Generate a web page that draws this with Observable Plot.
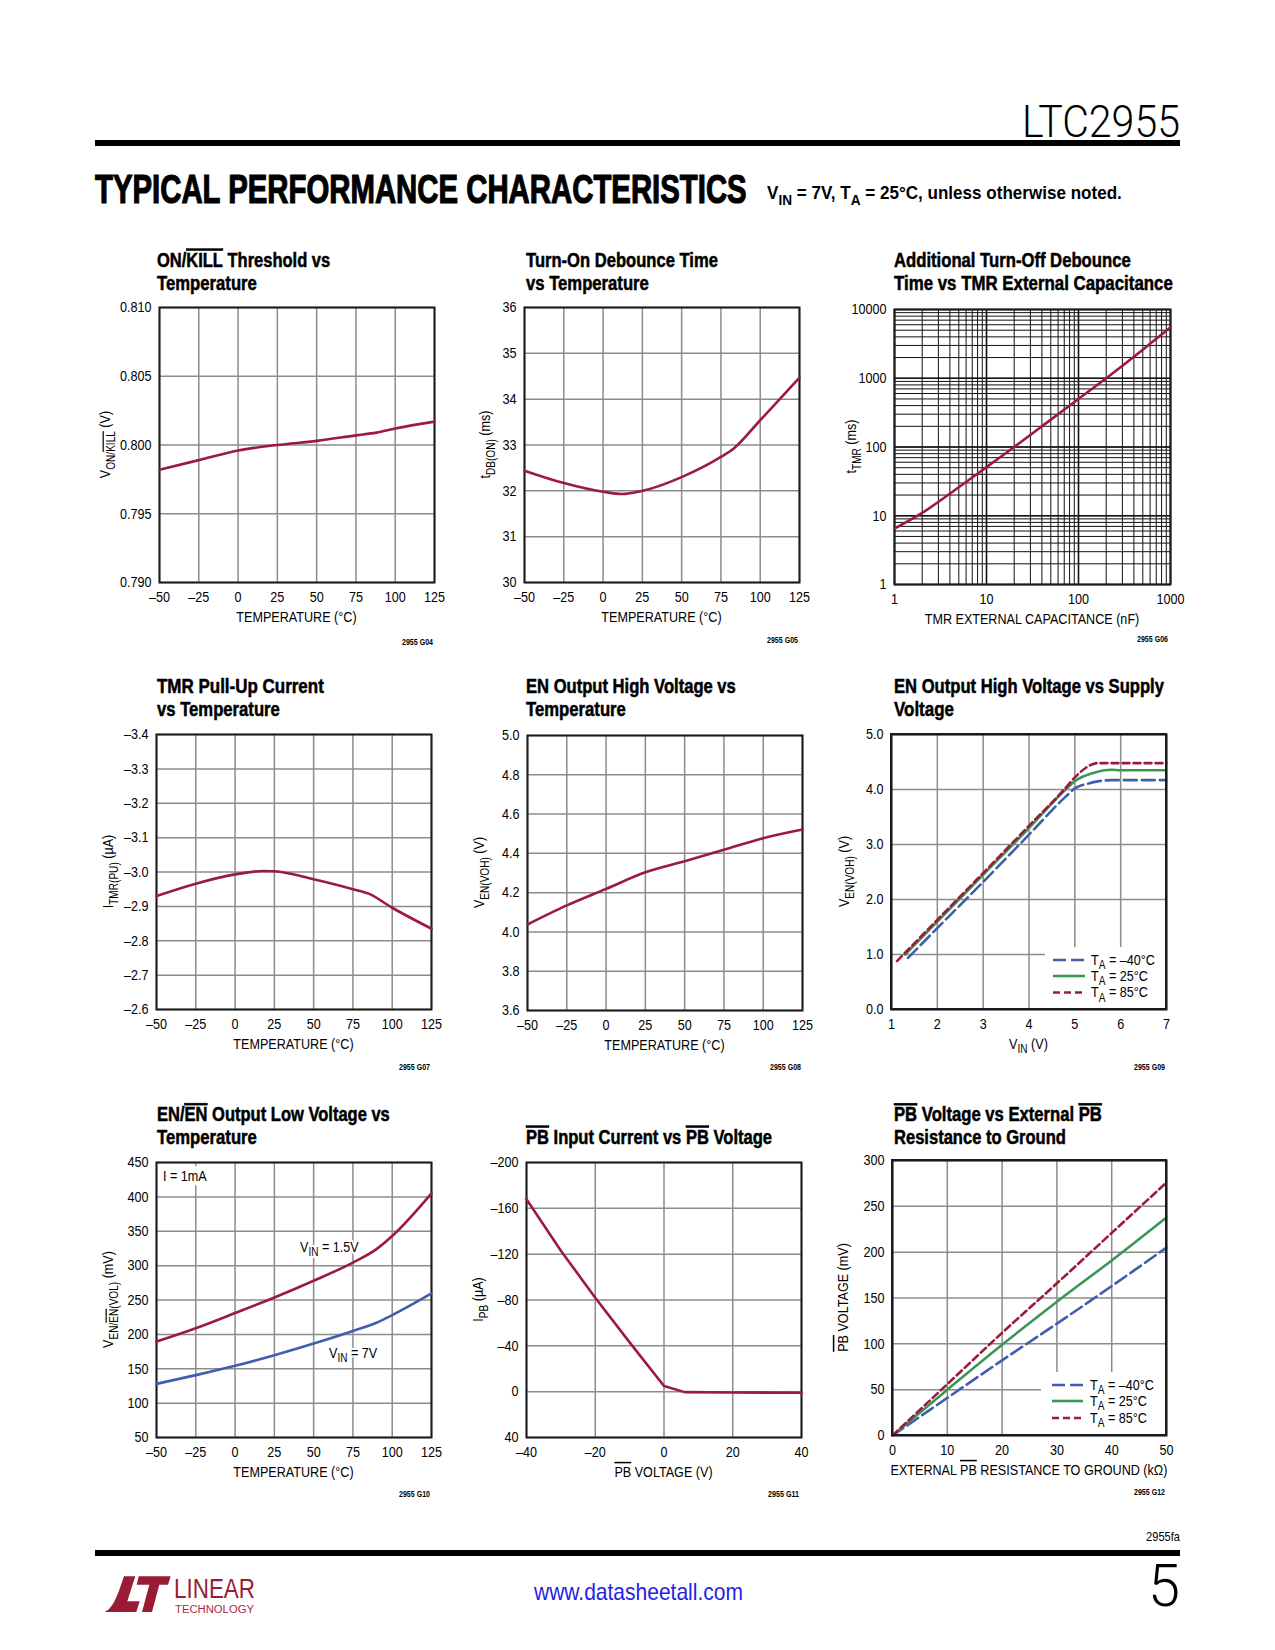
<!DOCTYPE html>
<html><head><meta charset="utf-8">
<script src="https://cdn.jsdelivr.net/npm/d3@7"></script>
<script src="https://cdn.jsdelivr.net/npm/@observablehq/plot@0.6"></script>
<style>
html,body{margin:0;padding:0;background:#fff;}
#page{position:relative;width:1275px;height:1650px;overflow:hidden;background:#fff;}
#chrome{position:absolute;left:0;top:0;}
</style></head>
<body><div id="page"></div>
<script>
// ---------------- DATA ----------------
const tempTicks = [-50, -25, 0, 25, 50, 75, 100, 125];

// G04 ON/KILL threshold vs temperature
const c1Temp = [-50, -25, 0, 25, 50, 75, 88, 100, 125];
const c1Volt = [0.7982, 0.7989, 0.7996, 0.8000, 0.8003, 0.8007, 0.8009, 0.8012, 0.8017];
const c1YTicks = [0.790, 0.795, 0.800, 0.805, 0.810];

// G05 Turn-on debounce time
const c2Temp = [-50, -25, 0, 12, 25, 50, 75, 83, 100, 125];
const c2Time = [32.44, 32.17, 31.98, 31.93, 32.0, 32.3, 32.74, 32.92, 33.54, 34.47];
const c2YTicks = [30, 31, 32, 33, 34, 35, 36];

// G06 Turn-off debounce vs capacitance (log-log)
const c3Cap = [1, 2, 5, 10, 20, 50, 100, 200, 500, 1000];
const c3Time = [6.5, 11, 26, 51, 100, 250, 500, 1000, 2600, 5500];
const c3XTicks = [1, 10, 100, 1000];
const c3YTicks = [1, 10, 100, 1000, 10000];
const c3Mult = [1, 2, 3, 4, 5, 6, 7, 8, 9];

// G07 TMR pull-up current
const c4Temp = [-50, -25, 0, 18, 25, 50, 75, 85, 100, 125];
const c4Curr = [-2.930, -2.966, -2.993, -3.003, -3.002, -2.979, -2.950, -2.937, -2.896, -2.835];
const c4YTicks = [-3.4, -3.3, -3.2, -3.1, -3.0, -2.9, -2.8, -2.7, -2.6];

// G08 EN output high voltage vs temperature
const c5Temp = [-50, -25, 0, 25, 50, 75, 100, 125];
const c5Volt = [4.038, 4.135, 4.219, 4.304, 4.360, 4.418, 4.477, 4.521];
const c5YTicks = [3.6, 3.8, 4.0, 4.2, 4.4, 4.6, 4.8, 5.0];

// G09 EN output high voltage vs supply
const c6VinM40 = [1.36, 2, 3, 4, 4.8, 5, 5.3, 5.8, 7];
const c6VohM40 = [0.94, 1.48, 2.32, 3.18, 3.87, 4.02, 4.11, 4.17, 4.17];
const c6Vin25 = [1.3, 2, 3, 4, 4.8, 5, 5.4, 5.8, 6, 7];
const c6Voh25 = [1.0, 1.6, 2.45, 3.3, 4.0, 4.15, 4.3, 4.36, 4.35, 4.35];
const c6Vin85 = [1.12, 2, 3, 4, 4.8, 5, 5.25, 5.5, 7];
const c6Voh85 = [0.88, 1.63, 2.48, 3.34, 4.03, 4.22, 4.40, 4.48, 4.48];
const c6XTicks = [1, 2, 3, 4, 5, 6, 7];
const c6YTicks = [0, 1, 2, 3, 4, 5];

// G10 EN output low voltage
const c7Temp = [-50, -25, 0, 25, 50, 75, 90, 100, 125];
const c7Vin15 = [189.6, 209, 231, 253.6, 278, 304.5, 324, 343, 405];
const c7Vin7 = [128, 140.7, 154.3, 169.7, 186.7, 205, 217, 228, 259.5];
const c7YTicks = [50, 100, 150, 200, 250, 300, 350, 400, 450];

// G11 PB input current vs PB voltage
const c8Volt = [-40, -30, -20, -10, 0, 6, 20, 40];
const c8Curr = [-168, -123, -82, -43, -5, 0.4, 0.7, 1];
const c8XTicks = [-40, -20, 0, 20, 40];
const c8YTicks = [-200, -160, -120, -80, -40, 0, 40];

// G12 PB voltage vs external resistance
const c9Res = [0, 10, 20, 30, 40, 50];
const c9M40 = [0, 41, 82, 122, 163, 205];
const c9T25 = [0, 50, 99, 146, 191, 238];
const c9T85 = [0, 56, 112, 166, 221, 276];
const c9XTicks = [0, 10, 20, 30, 40, 50];
const c9YTicks = [0, 50, 100, 150, 200, 250, 300];

// ---------------- STYLE ----------------
const NARROW = "'Liberation Sans',Arial,Helvetica,sans-serif";
const CONDENSE = 0.84;
const RED = "#9b1b3d", BLUE = "#3f5fae", GREEN = "#3b9558", GRID = "#8c8c8c";
const ML = 80, MR = 40, MT = 20, MB = 75;
const page = document.getElementById("page");

const fmt = dec => d => (d < 0 ? "\u2013" : "") + Math.abs(d).toFixed(dec);
const pts = (xs, ys) => xs.map((x, i) => ({x, y: ys[i]}));

function rich(sel, parts, base, subScale = 0.8, shift = 0.3) {
  let inSub = false;
  for (const p of parts) {
    const t = p[0], f = p[1] || "";
    const ts = sel.append("tspan").text(t);
    const sub = f.includes("s");
    if (sub) ts.attr("font-size", base * subScale);
    if (sub !== inSub) ts.attr("dy", (sub ? 1 : -1) * base * shift);
    if (f.includes("o")) ts.style("text-decoration", "overline");
    inSub = sub;
  }
  return sel;
}

// horizontal condensing about the text's anchor point
function squeeze(node, s) {
  const x = +(node.getAttribute("x") || 0), y = +(node.getAttribute("y") || 0);
  const prev = node.getAttribute("transform") || "";
  node.setAttribute("transform", `${prev} translate(${x},${y}) scale(${s.toFixed(4)},1) translate(${-x},${-y})`.trim());
  node.setAttribute("data-sq", "1");
}

// ---------------- PAGE CHROME ----------------
const chrome = d3.select(page).append("svg").attr("id", "chrome")
  .attr("width", 1275).attr("height", 1650);

function ctext(x, y, parts, o) {
  const t = chrome.append("text").attr("x", x).attr("y", y)
    .attr("font-family", o.family || NARROW).attr("font-size", o.size)
    .attr("font-weight", o.weight || "normal").attr("fill", o.fill || "#000")
    .attr("text-anchor", o.anchor || "start");
  if (o.stroke) t.attr("stroke", o.fill || "#000").attr("stroke-width", o.stroke);
  rich(t, parts, o.size, o.subScale || 0.8, o.shift || 0.3);
  if (o.len) {
    const L = t.node().getComputedTextLength();
    if (L > 0) squeeze(t.node(), o.len / L);
  }
  return t;
}

// header
ctext(1180, 137, [["LTC2955"]], {size: 44, family: "Roboto, " + NARROW, weight: 300, anchor: "end", len: 158});
chrome.append("rect").attr("x", 95).attr("y", 140).attr("width", 1085).attr("height", 6).attr("fill", "#000");
ctext(95, 203, [["TYPICAL PERFORMANCE CHARACTERISTICS"]], {size: 41, weight: 900, len: 652, stroke: 1.2});
ctext(767, 199, [["V"], ["IN", "s"], [" = 7V, T"], ["A", "s"], [" = 25°C, unless otherwise noted."]], {size: 19, weight: "bold", len: 355});

// footer
ctext(1180, 1541, [["2955fa"]], {size: 13, anchor: "end", len: 34});
chrome.append("rect").attr("x", 95).attr("y", 1550).attr("width", 1085).attr("height", 6).attr("fill", "#000");
ctext(534, 1600, [["www.datasheetall.com"]], {size: 24, fill: "#1f23e6", len: 209});
ctext(1180, 1606, [["5"]], {size: 60, family: "Roboto, " + NARROW, weight: 300, anchor: "end", len: 32});
// Linear Technology logo (approximation)
const LOGO = "#9a1c34";
chrome.append("path").attr("fill", LOGO)
  .attr("d", "M104.7 1612 C114.7 1608 119.7 1588 124 1576.3 L135.3 1576.3 L127.3 1601.3 L139.7 1601.3 L136.3 1612 Z");
chrome.append("path").attr("fill", LOGO)
  .attr("d", "M138.7 1576.3 L170.7 1576.3 L168 1584.7 L159.3 1584.7 L152 1612 L142 1612 L149.3 1584.7 L136.7 1584.7 Z");
ctext(174, 1598, [["LINEAR"]], {size: 28, fill: LOGO, len: 81});
ctext(175, 1613.5, [["TECHNOLOGY"]], {size: 10, fill: "#a82a45", len: 79});

// chart titles
const titles = [
  {x: 157, y: 267, lines: [[[["ON/"], ["KILL", "o"], [" Threshold vs"]], 173], [[["Temperature"]], 100]]},
  {x: 526, y: 267, lines: [[[["Turn-On Debounce Time"]], 192], [[["vs Temperature"]], 123]]},
  {x: 894, y: 267, lines: [[[["Additional Turn-Off Debounce"]], 237], [[["Time vs TMR External Capacitance"]], 279]]},
  {x: 157, y: 693, lines: [[[["TMR Pull-Up Current"]], 167], [[["vs Temperature"]], 123]]},
  {x: 526, y: 693, lines: [[[["EN Output High Voltage vs"]], 210], [[["Temperature"]], 100]]},
  {x: 894, y: 693, lines: [[[["EN Output High Voltage vs Supply"]], 270], [[["Voltage"]], 60]]},
  {x: 157, y: 1121.5, lines: [[[["EN/"], ["EN", "o"], [" Output Low Voltage vs"]], 233], [[["Temperature"]], 100]]},
  {x: 526, y: 1144, lines: [[[["PB", "o"], [" Input Current vs "], ["PB", "o"], [" Voltage"]], 246]]},
  {x: 894, y: 1121.5, lines: [[[["PB", "o"], [" Voltage vs External "], ["PB", "o"]], 208], [[["Resistance to Ground"]], 172]]}
];
for (const t of titles) {
  t.lines.forEach(([parts, len], i) => ctext(t.x, t.y + i * 23, parts, {size: 19.5, weight: "bold", len, stroke: 0.5}));
}

// chart ids
const ids = [
  ["2955 G04", 433, 645], ["2955 G05", 798, 643], ["2955 G06", 1168, 642],
  ["2955 G07", 430, 1070], ["2955 G08", 801, 1070], ["2955 G09", 1165, 1070],
  ["2955 G10", 430, 1497], ["2955 G11", 799, 1497], ["2955 G12", 1165, 1495]
];
for (const [s, x, y] of ids) ctext(x, y, [[s]], {size: 9.5, weight: "bold", anchor: "end", len: 31});

// ---------------- CHARTS ----------------
function makeChart(o) {
  const fw = o.fw || 275, fh = o.fh || 275;
  const svg = Plot.plot({
    width: fw + ML + MR, height: fh + MT + MB,
    marginLeft: ML, marginRight: MR, marginTop: MT, marginBottom: MB,
    style: {fontFamily: NARROW, fontSize: "15px", background: "transparent", overflow: "visible", color: "#000"},
    x: Object.assign({tickSize: 0, tickPadding: 9, label: null}, o.x),
    y: Object.assign({tickSize: 0, tickPadding: 8, label: null}, o.y),
    marks: o.marks
  });
  svg.style.position = "absolute";
  svg.style.left = (o.fx - ML) + "px";
  svg.style.top = (o.fy - MT) + "px";
  page.appendChild(svg);
  const s = d3.select(svg);
  rich(s.append("text").attr("x", ML + fw / 2).attr("y", MT + fh + 40).attr("text-anchor", "middle")
    .attr("font-family", NARROW).attr("font-size", 15).attr("fill", "#000"), o.xLabel, 15);
  rich(s.append("text").attr("transform", `translate(${ML - o.yOff},${MT + fh / 2}) rotate(-90)`)
    .attr("text-anchor", "middle").attr("font-family", NARROW).attr("font-size", 15).attr("fill", "#000"), o.yLabel, 15);
  return {s, fw, fh};
}

function grid(xs, ys, color = GRID, w = 1.5) {
  return [
    Plot.ruleX(xs, {stroke: color, strokeWidth: w}),
    Plot.ruleY(ys, {stroke: color, strokeWidth: w})
  ];
}
const frame = () => Plot.frame({stroke: "#1a1a1a", strokeWidth: 2});
const curve = (data, color, opts = {}) => Plot.line(data, Object.assign({x: "x", y: "y", stroke: color, strokeWidth: 2.6, curve: "monotone-x"}, opts));

function legend(c, box, rows, sx0, sx1, tx) {
  const g = c.s.append("g").attr("transform", `translate(${ML},${MT})`);
  g.append("rect").attr("x", box[0]).attr("y", box[1]).attr("width", box[2] - box[0]).attr("height", box[3] - box[1]).attr("fill", "#fff");
  for (const r of rows) {
    g.append("line").attr("x1", sx0).attr("x2", sx1).attr("y1", r.y).attr("y2", r.y)
      .attr("stroke", r.color).attr("stroke-width", 2.6).attr("stroke-dasharray", r.dash || null);
    rich(g.append("text").attr("x", tx).attr("y", r.y + 5).attr("text-anchor", "start")
      .attr("font-family", NARROW).attr("font-size", 15).attr("fill", "#000"), r.label, 15);
  }
  g.append("rect").attr("x", 0).attr("y", 0).attr("width", c.fw).attr("height", c.fh)
    .attr("fill", "none").attr("stroke", "#1a1a1a").attr("stroke-width", 2);
}

const TEMP_X = {domain: [-50, 125], ticks: tempTicks, tickFormat: fmt(0)};
const TEMP_LABEL = [["TEMPERATURE (°C)"]];

// 1
makeChart({
  fx: 159, fy: 307, yOff: 49,
  x: TEMP_X, y: {domain: [0.790, 0.810], ticks: c1YTicks, tickFormat: fmt(3)},
  xLabel: TEMP_LABEL, yLabel: [["V"], ["ON/", "s"], ["KILL", "so"], [" (V)"]],
  marks: [...grid(tempTicks, c1YTicks), frame(), curve(pts(c1Temp, c1Volt), RED)]
});
// 2
makeChart({
  fx: 524, fy: 307, yOff: 34,
  x: TEMP_X, y: {domain: [30, 36], ticks: c2YTicks, tickFormat: fmt(0)},
  xLabel: TEMP_LABEL, yLabel: [["t"], ["DB(ON)", "s"], [" (ms)"]],
  marks: [...grid(tempTicks, c2YTicks), frame(), curve(pts(c2Temp, c2Time), RED)]
});
// 3
const c3XGrid = [1, 10, 100].flatMap(d => c3Mult.map(m => d * m)).concat([1000]);
const c3YGrid = [1, 10, 100, 1000].flatMap(d => c3Mult.map(m => d * m)).concat([10000]);
makeChart({
  fx: 894, fy: 309, fw: 276, yOff: 38,
  x: {type: "log", domain: [1, 1000], ticks: c3XTicks, tickFormat: d => String(d)},
  y: {type: "log", domain: [1, 10000], ticks: c3YTicks, tickFormat: d => String(d)},
  xLabel: [["TMR EXTERNAL CAPACITANCE (nF)"]], yLabel: [["t"], ["TMR", "s"], [" (ms)"]],
  marks: [
    ...grid(c3XGrid, c3YGrid, "#111", 1),
    ...grid(c3XTicks, c3YTicks, "#111", 1.6),
    frame(), curve(pts(c3Cap, c3Time), RED)
  ]
});
// 4
makeChart({
  fx: 156, fy: 734, yOff: 43,
  x: TEMP_X, y: {domain: [-2.6, -3.4], ticks: c4YTicks, tickFormat: fmt(1)},
  xLabel: TEMP_LABEL, yLabel: [["I"], ["TMR(PU)", "s"], [" (µA)"]],
  marks: [...grid(tempTicks, c4YTicks), frame(), curve(pts(c4Temp, c4Curr), RED)]
});
// 5
makeChart({
  fx: 527, fy: 735, yOff: 43,
  x: TEMP_X, y: {domain: [3.6, 5.0], ticks: c5YTicks, tickFormat: fmt(1)},
  xLabel: TEMP_LABEL, yLabel: [["V"], ["EN(VOH)", "s"], [" (V)"]],
  marks: [...grid(tempTicks, c5YTicks), frame(), curve(pts(c5Temp, c5Volt), RED)]
});
// 6
const c6 = makeChart({
  fx: 891, fy: 734, yOff: 42,
  x: {domain: [1, 7], ticks: c6XTicks, tickFormat: fmt(0)},
  y: {domain: [0, 5], ticks: c6YTicks, tickFormat: fmt(1)},
  xLabel: [["V"], ["IN", "s"], [" (V)"]], yLabel: [["V"], ["EN(VOH)", "s"], [" (V)"]],
  marks: [
    ...grid(c6XTicks, c6YTicks), frame(),
    curve(pts(c6VinM40, c6VohM40), BLUE, {strokeDasharray: "13,5"}),
    curve(pts(c6Vin25, c6Voh25), GREEN),
    curve(pts(c6Vin85, c6Voh85), RED, {strokeDasharray: "7,4"})
  ]
});
const legRows = (ys) => [
  {y: ys[0], color: BLUE, dash: "13,5", label: [["T"], ["A", "s"], [" = \u201340°C"]]},
  {y: ys[1], color: GREEN, label: [["T"], ["A", "s"], [" = 25°C"]]},
  {y: ys[2], color: RED, dash: "7,4", label: [["T"], ["A", "s"], [" = 85°C"]]}
];
legend(c6, [154, 213, 274, 274], legRows([226, 242, 258.5]), 162, 194, 200);

// 7
const c7 = makeChart({
  fx: 156, fy: 1162, yOff: 43,
  x: TEMP_X, y: {domain: [50, 450], ticks: c7YTicks, tickFormat: fmt(0)},
  xLabel: TEMP_LABEL, yLabel: [["V"], ["EN/", "s"], ["EN", "so"], ["(VOL)", "s"], [" (mV)"]],
  marks: [...grid(tempTicks, c7YTicks), frame(),
    curve(pts(c7Temp, c7Vin15), RED), curve(pts(c7Temp, c7Vin7), BLUE)]
});
const c7Notes = [];
{
  const g = c7.s.append("g").attr("transform", `translate(${ML},${MT})`);
  const ann = (x, y, parts, box) => {
    const t = g.append("text").attr("x", x).attr("y", y).attr("text-anchor", "start")
      .attr("font-family", NARROW).attr("font-size", 15).attr("fill", "#000");
    rich(t, parts, 15);
    c7Notes.push({t, box, g});
    if (!box) t.attr("stroke", "#fff").attr("stroke-width", 4).attr("paint-order", "stroke");
  };
  ann(7, 19, [["I = 1mA"]], true);
  ann(144, 90, [["V"], ["IN", "s"], [" = 1.5V"]], false);
  ann(173, 196, [["V"], ["IN", "s"], [" = 7V"]], false);
}

// 8
makeChart({
  fx: 526, fy: 1162, yOff: 43,
  x: {domain: [-40, 40], ticks: c8XTicks, tickFormat: fmt(0)},
  y: {domain: [40, -200], ticks: c8YTicks, tickFormat: fmt(0)},
  xLabel: [["PB", "o"], [" VOLTAGE (V)"]], yLabel: [["I"], ["PB", "s"], [" (µA)"]],
  marks: [...grid(c8XTicks, c8YTicks), frame(), curve(pts(c8Volt, c8Curr), RED, {curve: "linear"})]
});

// 9
const c9 = makeChart({
  fx: 892, fy: 1160, fw: 274, yOff: 44,
  x: {domain: [0, 50], ticks: c9XTicks, tickFormat: fmt(0)},
  y: {domain: [0, 300], ticks: c9YTicks, tickFormat: fmt(0)},
  xLabel: [["EXTERNAL "], ["PB", "o"], [" RESISTANCE TO GROUND (k\u03A9)"]], yLabel: [["PB", "o"], [" VOLTAGE (mV)"]],
  marks: [
    ...grid(c9XTicks, c9YTicks), frame(),
    curve(pts(c9Res, c9M40), BLUE, {strokeDasharray: "13,5"}),
    curve(pts(c9Res, c9T25), GREEN),
    curve(pts(c9Res, c9T85), RED, {strokeDasharray: "7,4"})
  ]
});
legend(c9, [149, 212, 273, 274], legRows([225, 241, 258]), 160, 191, 198);

// condense every remaining text (Helvetica Condensed look):
// rich texts (with tspans) by an anchor-centred scale, plain tick labels by textLength
document.querySelectorAll("#page svg text").forEach(t => {
  if (t.hasAttribute("data-sq")) return;
  if (t.querySelector("tspan")) {
    squeeze(t, CONDENSE);
  } else {
    const L = t.getComputedTextLength();
    if (L > 0) {
      t.setAttribute("textLength", (L * CONDENSE).toFixed(2));
      t.setAttribute("lengthAdjust", "spacingAndGlyphs");
    }
  }
});
// white box behind "I = 1mA"
for (const n of c7Notes) {
  if (!n.box) continue;
  const b = n.t.node().getBBox();
  const x0 = +n.t.attr("x");
  n.g.insert("rect", () => n.t.node()).attr("x", x0 - 3).attr("y", b.y - 1)
    .attr("width", b.width * CONDENSE + 6).attr("height", b.height + 2).attr("fill", "#fff");
}
</script>
</body></html>
